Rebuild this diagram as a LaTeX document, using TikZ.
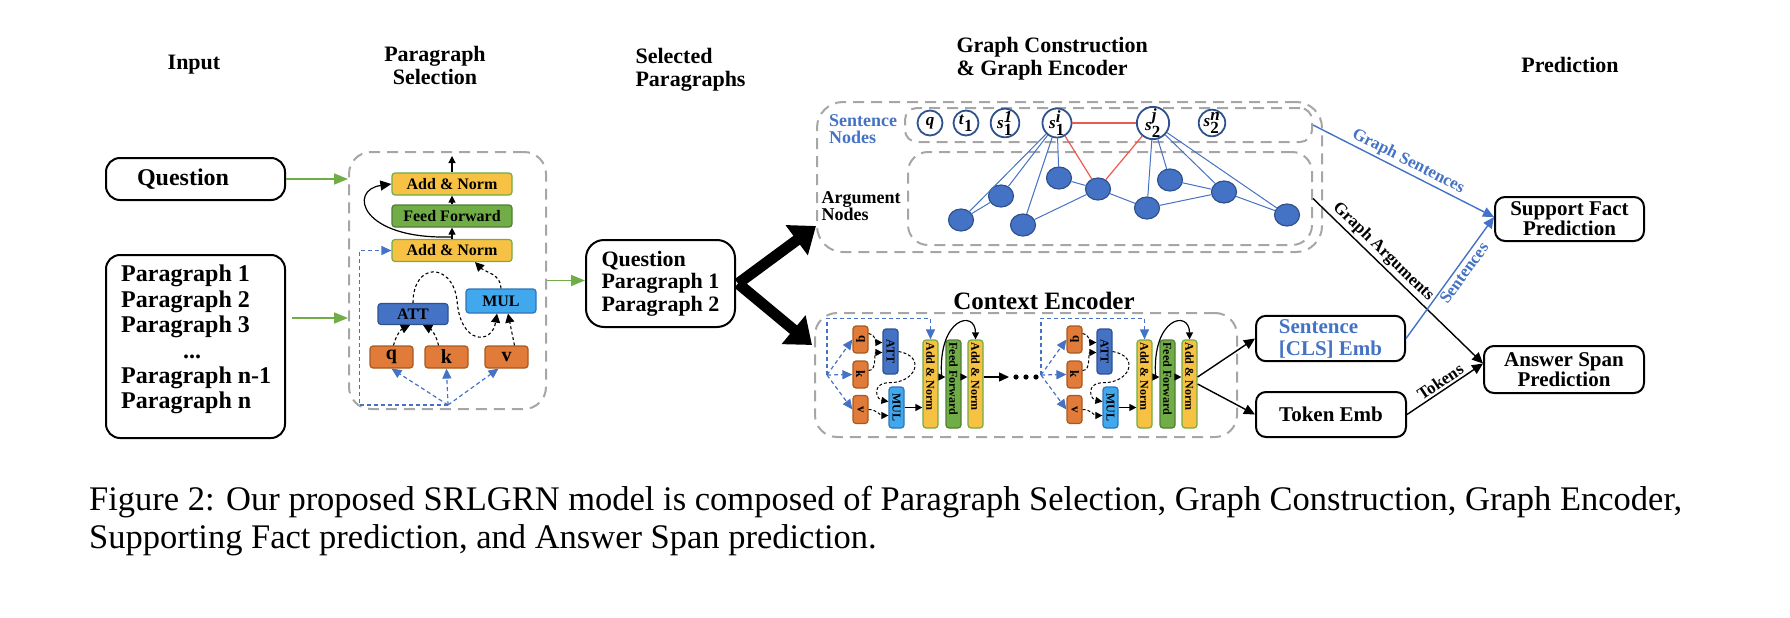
\documentclass[tikz,border=0pt]{standalone}
\usepackage{fontspec}
\setmainfont{Liberation Serif}
\usetikzlibrary{arrows.meta,positioning,shapes.geometric,calc,fit}

\definecolor{sgray}{HTML}{A6A6A6}
\definecolor{sgreen}{HTML}{70AD47}
\definecolor{sgreendk}{HTML}{507E32}
\definecolor{sblue}{HTML}{4472C4}
\definecolor{snavy}{HTML}{2F528F}
\definecolor{sorange}{HTML}{E07B39}
\definecolor{sorangedk}{HTML}{A9591F}
\definecolor{ssky}{HTML}{41A8EE}
\definecolor{sskydk}{HTML}{2E75B6}
\definecolor{syellow}{HTML}{F7C143}
\definecolor{sred}{HTML}{EC5B50}

% sentence node symbol: letter, subscript, superscript
\newcommand{\gsym}[3]{$\textbf{\textit{#1}}_{\textbf{#2}}^{\textbf{\textit{#3}}}$}

\begin{document}
\begin{tikzpicture}[x=1pt, y=1pt, every node/.style={font=\bfseries},
  head/.style={font=\fontsize{22}{23}\selectfont\bfseries, align=center},
  inbox/.style={draw, line width=2pt, rounded corners=14pt, font=\fontsize{24}{25.4}\selectfont\bfseries},
  outbox/.style={draw, line width=2pt, rounded corners=10pt, align=center, font=\fontsize{21}{20}\selectfont\bfseries},
  dbox/.style={draw=sgray, line width=2pt, dash pattern=on 11pt off 7pt, rounded corners=22pt, inner sep=0pt},
  garr/.style={sgreen, line width=1.6pt, -{Triangle[length=14pt,width=11pt]}},
  karr/.style={line width=1.4pt, -{Triangle[length=11pt,width=10pt]}},
  barr/.style={sblue, line width=1.4pt, -{Triangle[length=11pt,width=10pt]}},
  sarr/.style={line width=1.2pt, -{Triangle[length=7pt,width=7pt]}},
  kdash/.style={line width=1.1pt, dash pattern=on 3pt off 2.5pt, -{Triangle[length=9pt,width=9pt]}},
  kdashs/.style={line width=1pt, dash pattern=on 3pt off 2pt, -{Triangle[length=7pt,width=7pt]}},
  bdash/.style={sblue, line width=1.2pt, dash pattern=on 4pt off 3pt, -{Triangle[length=10pt,width=9pt]}},
  fatarr/.style={line width=11pt, -{Triangle[length=24pt,width=36pt]}},
  blk/.style={rounded corners=3pt, line width=1.2pt, inner sep=0pt},
  qkv/.style={blk, fill=sorange, draw=sorangedk},
  att/.style={blk, fill=sblue, draw=snavy},
  mul/.style={blk, fill=ssky, draw=sskydk},
  norm/.style={blk, fill=syellow, draw=sgreen},
  ffn/.style={blk, fill=sgreen, draw=sgreendk},
  hfont/.style={font=\fontsize{16}{16}\selectfont\bfseries},
  vfont/.style={font=\fontsize{12}{12}\selectfont\bfseries},
  bartxt/.style={vfont, rotate=-90, anchor=west, inner sep=0pt},
  snode/.style={circle, draw=snavy, line width=1.8pt, fill=white, minimum size=25pt, inner sep=0pt, font=\fontsize{17}{17}\selectfont},
  anode/.style={ellipse, fill=sblue, draw=snavy, line width=1.2pt, minimum width=25pt, minimum height=22pt, inner sep=0pt},
  bedge/.style={sblue, line width=1pt},
  redge/.style={sred, line width=1.2pt},
  lbl/.style={font=\fontsize{17}{17}\selectfont\bfseries, inner sep=2pt}
]

  \useasboundingbox (0,0) rectangle (1790,-618);

  % ---- Column headings ----
  \node[head] (hInput) at (194,-65) {Input};
  \node[head] (hSel) at (435,-65) {Paragraph\\Selection};
  \node[head, align=left, anchor=west] (hPar) at (632,-70) {Selected\\Paragraphs};
  \node[head, align=left, anchor=west] (hGraph) at (953,-59) {Graph Construction\\\& Graph Encoder};
  \node[head] (hPred) at (1570,-65) {Prediction};

  % ---- Input ----
  \node[inbox, minimum height=42pt, text width=117pt, inner xsep=31pt, align=left] (qbox) at (195.5,-179) {Question};
  \node[inbox, minimum width=179pt, minimum height=183pt] (pgbox) at (195.5,-346.5) {};
  \node[anchor=north west, inner sep=0pt, align=left, font=\fontsize{24}{25.4}\selectfont\bfseries] (pgtxt) at (121,-265)
    {Paragraph 1\\Paragraph 2\\Paragraph 3\\\hspace*{62pt}...\\Paragraph n-1\\Paragraph n};

  % ---- Paragraph selection (transformer block) ----
  \node[dbox, fit={(349,-152) (546,-409)}] (psel) {};
  \node[norm, minimum width=120pt, minimum height=22pt, hfont] (psNorm2) at (452,-184) {Add \& Norm};
  \node[ffn, minimum width=120pt, minimum height=22pt, hfont] (psFF) at (452,-216) {Feed Forward};
  \node[norm, minimum width=120pt, minimum height=22pt, hfont] (psNorm1) at (452,-250.5) {Add \& Norm};
  \node[att, minimum width=70pt, minimum height=21pt, hfont] (psAtt) at (413,-314) {ATT};
  \node[mul, minimum width=70pt, minimum height=24pt, hfont] (psMul) at (501,-301) {MUL};
  \node[qkv, minimum width=43pt, minimum height=22pt, font=\fontsize{20}{20}\selectfont\bfseries] (psQ) at (391.5,-357) {q};
  \node[qkv, minimum width=43pt, minimum height=22pt, font=\fontsize{20}{20}\selectfont\bfseries] (psK) at (446.5,-357) {k};
  \node[qkv, minimum width=43pt, minimum height=22pt, font=\fontsize{20}{20}\selectfont\bfseries] (psV) at (506.5,-357) {v};
  \coordinate (psIn) at (448,-405);
  \coordinate (psOut) at (452,-156);

  \draw[sarr] (psNorm2.north) -- (psOut);
  \draw[sarr] (psFF.north) -- (psNorm2.south);
  \draw[sarr] (psNorm1.north) -- (psFF.south);
  \draw[karr, line width=1.2pt] ([yshift=2pt]psNorm1.north) .. controls (360,-240) and (348,-190) .. (psNorm2.west);
  \draw[bdash] (psIn) -| ([xshift=-32pt]psNorm1.west) -- (psNorm1.west);
  \draw[bdash] (psIn) -- (psQ.south);
  \draw[bdash] (psIn) -- (psK.south);
  \draw[bdash] (psIn) -- ([xshift=-8pt]psV.south);
  \draw[kdash] ([xshift=2pt]psQ.north) to[bend left=25] ([xshift=-3pt]psAtt.south);
  \draw[kdash] ([xshift=-8pt]psK.north) to[bend right=25] ([xshift=10pt]psAtt.south);
  \draw[kdash] (psAtt.north) .. controls (413,-262) and (452,-262) .. (457,-300)
    .. controls (460,-345) and (492,-345) .. ([xshift=-4pt]psMul.south);
  \draw[kdash] ([xshift=8pt]psV.north) -- ([xshift=7pt]psMul.south);
  \draw[kdash] (psMul.north) to[out=90,in=-45] ([xshift=23pt]psNorm1.south);

  % green inputs
  \coordinate (pgout) at ([xshift=6pt,yshift=28.5pt]pgbox.east);
  \draw[garr] (qbox.east) -- (qbox.east -| psel.west);
  \draw[garr] (pgout) -- (pgout -| psel.west);

  % ---- Selected paragraphs ----
  \node[inbox, rounded corners=18pt, minimum width=149pt, minimum height=87pt, align=left, font=\fontsize{22}{22.5}\selectfont\bfseries]
    (selbox) at (660.5,-283.5) {Question\\Paragraph 1\\Paragraph 2};
  \draw[garr] (psel.east) -- (psel.east -| selbox.west);

  % ---- Graph construction & graph encoder ----
  \node[dbox, rounded corners=26pt, fit={(817,-102) (1322,-252)}] (gbox) {};
  \node[dbox, rounded corners=12pt, fit={(905,-108) (1312,-142)}] (sbox) {};
  \node[dbox, rounded corners=20pt, fit={(908,-152) (1312,-245)}] (abox) {};
  \node[text=sblue, align=left, font=\fontsize{18}{16.5}\selectfont\bfseries] (sLbl) at (863,-129) {Sentence\\Nodes};
  \node[align=left, font=\fontsize{18}{16}\selectfont\bfseries] (aLbl) at (861,-206) {Argument\\Nodes};

  \node[snode] (sq) at (930,-123) {\textbf{\textit{q}}};
  \node[snode] (st1) at (966,-123) {\gsym{t}{1}{}};
  \node[snode] (s11) at (1005,-123) {\gsym{s}{1}{1}};
  \node[snode] (s1i) at (1057,-123) {\gsym{s}{1}{i}};
  \node[snode] (s2j) at (1153,-123) {\gsym{s}{2}{j}};
  \node[snode] (s2n) at (1212,-123) {\gsym{s}{2}{n}};

  \foreach \n/\x/\y in {1/961/220, 2/1001/196, 3/1023/225, 4/1059/178, 5/1098/189,
                        6/1147/208, 7/1170/180, 8/1224/192, 9/1287/215}
    \node[anode] (a\n) at (\x,-\y) {};

  \foreach \t in {1,2,3,4} \draw[bedge] (s1i) -- (a\t);
  \foreach \t in {6,7,8,9} \draw[bedge] (s2j) -- (a\t);
  \foreach \u/\t in {1/2, 3/5, 4/5, 5/6, 6/8, 7/8, 8/9} \draw[bedge] (a\u) -- (a\t);
  \draw[redge] (s1i) -- (s2j);
  \draw[redge] (s1i) -- (a5);
  \draw[redge] (s2j) -- (a5);

  % ---- Context encoder ----
  \node[dbox, fit={(815,-313) (1237,-437)}] (cbox) {};
  \node[font=\fontsize{25}{25}\selectfont\bfseries] (cLbl) at (1044,-301) {Context Encoder};

  \foreach \ly/\dx in {a/0,b/214}{
    \begin{scope}[xshift=\dx pt]
      \coordinate (jn\ly) at (827,-375);
      \node[qkv, minimum width=15pt, minimum height=27pt, font=\fontsize{13}{13}\selectfont\bfseries] (q\ly) at (860.5,-339.5) {\rotatebox{-90}{q}};
      \node[qkv, minimum width=15pt, minimum height=27pt, font=\fontsize{13}{13}\selectfont\bfseries] (k\ly) at (860.5,-374.5) {\rotatebox{-90}{k}};
      \node[qkv, minimum width=15pt, minimum height=28pt, font=\fontsize{13}{13}\selectfont\bfseries] (v\ly) at (860.5,-409.5) {\rotatebox{-90}{v}};
      \node[att, minimum width=15pt, minimum height=45pt, vfont] (att\ly) at (890.5,-351.5) {\rotatebox{-90}{ATT}};
      \node[mul, minimum width=15pt, minimum height=41pt, vfont] (mul\ly) at (896.5,-407.5) {\rotatebox{-90}{MUL}};
      \node[norm, minimum width=15pt, minimum height=88pt] (an1\ly) at (930.5,-384) {};
      \node[ffn, minimum width=15pt, minimum height=88pt] (ff\ly) at (953.5,-384) {};
      \node[norm, minimum width=15pt, minimum height=88pt] (an2\ly) at (975.5,-384) {};
      \node[bartxt] (an1t\ly) at ([yshift=-3pt]an1\ly.north) {Add \& Norm};
      \node[bartxt] (fft\ly) at ([yshift=-3pt]ff\ly.north) {Feed Forward};
      \node[bartxt] (an2t\ly) at ([yshift=-3pt]an2\ly.north) {Add \& Norm};

      \draw[bdash] (jn\ly) |- ([yshift=21pt]an1\ly.north) -- (an1\ly.north);
      \draw[bdash] (jn\ly) -- (q\ly.west);
      \draw[bdash] (jn\ly) -- (k\ly.west);
      \draw[bdash] (jn\ly) -- (v\ly.west);
      \draw[kdashs] ([yshift=6pt]q\ly.east) to[out=0,in=180] ([yshift=9pt]att\ly.west);
      \draw[kdashs] ([yshift=4pt]k\ly.east) to[out=0,in=180] ([yshift=-1pt]att\ly.west);
      \draw[kdashs] (att\ly.east) .. controls +(28,-5) and +(25,0) .. ([yshift=-8pt]att\ly.south)
        .. controls +(-20,0) and +(-12,2) .. ([yshift=6pt]mul\ly.west);
      \draw[kdashs] (v\ly.east) to[out=0,in=180] ([yshift=-8pt]mul\ly.west);
      \draw[sarr] (mul\ly.east) -- (mul\ly.east -| an1\ly.west);
      \draw[sarr] ([yshift=7pt]an1\ly.east) -- ([yshift=7pt]ff\ly.west);
      \draw[sarr] ([yshift=7pt]ff\ly.east) -- ([yshift=7pt]an2\ly.west);
      \draw[sarr] ([xshift=3pt,yshift=7pt]an1\ly.east) .. controls +(-4,60) and +(0,30) .. (an2\ly.north);
    \end{scope}
  }

  % between the two layers
  \coordinate (dotL) at (1009,-377);
  \draw[karr, -{Triangle[length=10pt,width=9pt]}] ([yshift=7pt]an2a.east) -- (dotL);
  \foreach \d in {1016,1026,1036} \fill (\d,-377) circle (2.6pt);

  % ---- Embeddings and predictions ----
  \node[outbox, minimum width=149pt, minimum height=43pt, align=left,
    text=sblue, font=\fontsize{21}{22}\selectfont\bfseries] (sentemb) at (1330.5,-338.5)
    {Sentence\\{}[CLS] Emb};
  \node[outbox, minimum width=150pt, minimum height=45pt, font=\fontsize{21}{22}\selectfont\bfseries] (tokemb) at (1331,-414.5) {Token Emb};
  \node[outbox, minimum width=149pt, minimum height=44pt] (support) at (1569.5,-219) {Support Fact\\Prediction};
  \node[outbox, minimum width=160pt, minimum height=47pt] (answer) at (1564,-369.5) {Answer Span\\Prediction};

  \draw[karr] ([yshift=7pt]an2b.east) -- (sentemb.west);
  \draw[karr] (an2b.east) -- (tokemb.west);

  \draw[fatarr] ([xshift=2pt]selbox.east) -- ([yshift=-49pt]gbox.west);
  \draw[fatarr] ([xshift=2pt]selbox.east) -- ([xshift=-2pt,yshift=30pt]cbox.west);

  \draw[barr] (sbox.east) -- node[lbl, sloped, above, text=sblue] (gsLbl) {Graph Sentences} ([yshift=2pt]support.west);
  \draw[karr] (abox.east) -- node[lbl, sloped, above, pos=0.37] (gaLbl) {Graph Arguments} ([yshift=6pt]answer.west);
  \draw[barr] (sentemb.east) -- node[lbl, sloped, below, pos=0.58, text=sblue] (senLbl) {Sentences} ([yshift=2pt]support.west);
  \draw[karr] (tokemb.east) -- node[lbl, sloped, above] (tokLbl) {Tokens} ([yshift=6pt]answer.west);

  % ---- Caption ----
  \node[anchor=north west, align=left, inner sep=0pt, font=\fontsize{34.5}{38.5}\selectfont\mdseries] (caption) at (89,-486)
    {Figure 2: Our proposed SRLGRN model is composed of Paragraph Selection, Graph Construction, Graph Encoder,\\
     Supporting Fact prediction, and Answer Span prediction.};

\end{tikzpicture}
\end{document}
